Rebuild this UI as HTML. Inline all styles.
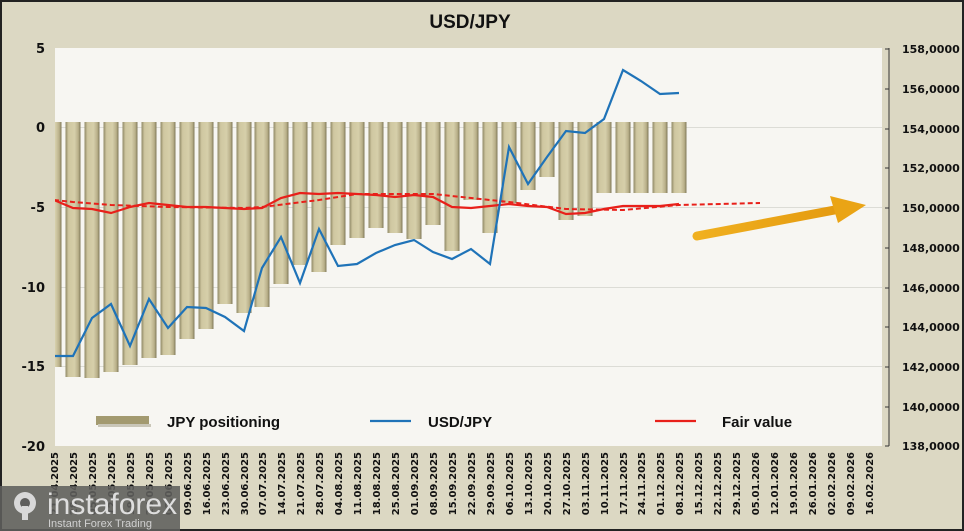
<!DOCTYPE html>
<html><head><meta charset="utf-8"><style>
html,body{margin:0;padding:0;background:#dcd8c3;}
svg{display:block;}
.ax{font-family:"DejaVu Sans",sans-serif;font-weight:bold;fill:#111;}
.lg{font-family:"Liberation Sans",sans-serif;font-weight:bold;font-size:15px;fill:#111;}
</style></head><body>
<svg width="964" height="531" viewBox="0 0 964 531" xmlns="http://www.w3.org/2000/svg">
<defs>
<linearGradient id="bg" x1="0" x2="1" y1="0" y2="0">
<stop offset="0" stop-color="#8f8866"/><stop offset="0.2" stop-color="#cfc7a0"/><stop offset="0.6" stop-color="#d6cfaa"/><stop offset="0.85" stop-color="#b9b08a"/><stop offset="1" stop-color="#7f7858"/>
</linearGradient>
<linearGradient id="ar" x1="0" x2="1"><stop offset="0" stop-color="#f0b020"/><stop offset="1" stop-color="#e49a10"/></linearGradient>
<clipPath id="pc"><rect x="55" y="48" width="827" height="398"/></clipPath>
</defs>
<rect x="0" y="0" width="964" height="531" fill="#dcd8c3"/>
<rect x="1" y="1" width="962" height="529" fill="none" stroke="#222" stroke-width="2"/>
<text x="470" y="28" text-anchor="middle" style="font-family:'Liberation Sans',sans-serif;font-weight:bold;font-size:19px;fill:#111">USD/JPY</text>
<rect x="55" y="48" width="827" height="398" fill="#f7f6f2"/>
<g stroke="#dcdcd6" stroke-width="1">
<line x1="55" x2="882" y1="127.5" y2="127.5"/><line x1="55" x2="882" y1="207.5" y2="207.5"/>
<line x1="55" x2="882" y1="287.5" y2="287.5"/><line x1="55" x2="882" y1="366.5" y2="366.5"/>
</g>
<g class="ax" font-size="13" text-anchor="end">
<text x="45" y="53">5</text><text x="45" y="132">0</text><text x="45" y="212">-5</text>
<text x="45" y="292">-10</text><text x="45" y="371">-15</text><text x="45" y="451">-20</text>
</g>
<line x1="889" y1="48" x2="889" y2="446" stroke="#333"/>
<g stroke="#333">
<line x1="885" x2="889" y1="49" y2="49"/><line x1="885" x2="889" y1="89" y2="89"/><line x1="885" x2="889" y1="129" y2="129"/><line x1="885" x2="889" y1="168" y2="168"/><line x1="885" x2="889" y1="208" y2="208"/><line x1="885" x2="889" y1="248" y2="248"/><line x1="885" x2="889" y1="288" y2="288"/><line x1="885" x2="889" y1="327" y2="327"/><line x1="885" x2="889" y1="367" y2="367"/><line x1="885" x2="889" y1="407" y2="407"/><line x1="885" x2="889" y1="446" y2="446"/>
</g>
<g class="ax" font-size="11">
<text x="902" y="53">158,0000</text><text x="902" y="93">156,0000</text><text x="902" y="133">154,0000</text><text x="902" y="172">152,0000</text><text x="902" y="212">150,0000</text><text x="902" y="252">148,0000</text><text x="902" y="292">146,0000</text><text x="902" y="331">144,0000</text><text x="902" y="371">142,0000</text><text x="902" y="411">140,0000</text><text x="902" y="450">138,0000</text>
</g>
<g clip-path="url(#pc)" fill="url(#bg)">
<rect x="46.5" y="122" width="15" height="245"/>
<rect x="65.5" y="122" width="15" height="255"/>
<rect x="84.5" y="122" width="15" height="256"/>
<rect x="103.5" y="122" width="15" height="250"/>
<rect x="122.5" y="122" width="15" height="243"/>
<rect x="141.5" y="122" width="15" height="236"/>
<rect x="160.5" y="122" width="15" height="233"/>
<rect x="179.5" y="122" width="15" height="217"/>
<rect x="198.5" y="122" width="15" height="207"/>
<rect x="217.5" y="122" width="15" height="182"/>
<rect x="236.5" y="122" width="15" height="191"/>
<rect x="254.5" y="122" width="15" height="185"/>
<rect x="273.5" y="122" width="15" height="162"/>
<rect x="292.5" y="122" width="15" height="143"/>
<rect x="311.5" y="122" width="15" height="150"/>
<rect x="330.5" y="122" width="15" height="123"/>
<rect x="349.5" y="122" width="15" height="116"/>
<rect x="368.5" y="122" width="15" height="106"/>
<rect x="387.5" y="122" width="15" height="111"/>
<rect x="406.5" y="122" width="15" height="117"/>
<rect x="425.5" y="122" width="15" height="103"/>
<rect x="444.5" y="122" width="15" height="129"/>
<rect x="463.5" y="122" width="15" height="78"/>
<rect x="482.5" y="122" width="15" height="111"/>
<rect x="501.5" y="122" width="15" height="81"/>
<rect x="520.5" y="122" width="15" height="68"/>
<rect x="539.5" y="122" width="15" height="55"/>
<rect x="558.5" y="122" width="15" height="98"/>
<rect x="577.5" y="122" width="15" height="94"/>
<rect x="596.5" y="122" width="15" height="71"/>
<rect x="615.5" y="122" width="15" height="71"/>
<rect x="633.5" y="122" width="15" height="71"/>
<rect x="652.5" y="122" width="15" height="71"/>
<rect x="671.5" y="122" width="15" height="71"/>
</g>
<polyline clip-path="url(#pc)" fill="none" stroke="#e8201a" stroke-width="2" stroke-dasharray="5,3" points="54,200 73,202 111,205 168,207 244,208 262,207 319,200 357,194 433,194 509,202 566,209 623,210 679,205 760,203"/>
<polyline clip-path="url(#pc)" fill="none" stroke="#e8201a" stroke-width="2.2" points="54,200 73,208 92,209 111,213 130,207 149,203 168,205 187,207 206,207 225,208 244,209 262,208 281,198 300,193 319,194 338,193 357,194 376,195 395,197 414,195 433,197 452,207 471,208 490,206 509,204 528,206 547,207 566,214 585,213 604,209 623,206 641,206 660,206 679,204"/>
<polyline clip-path="url(#pc)" fill="none" stroke="#1f73b8" stroke-width="2.2" points="54,356 73,356 92,318 111,304 130,346 149,299 168,328 187,307 206,308 225,317 244,331 262,268 281,237 300,283 319,229 338,266 357,264 376,253 395,245 414,240 433,252 452,259 471,249 490,264 509,147 528,184 547,157 566,131 585,133 604,119 623,70 641,81 660,94 679,93"/>
<g>
<line x1="697" y1="236" x2="840" y2="209" stroke="url(#ar)" stroke-width="9" stroke-linecap="round"/>
<polygon points="830,196 866,205 838,223" fill="#eaa415"/>
</g>
<rect x="96" y="416" width="53" height="9" fill="#a39a70"/>
<rect x="98" y="424" width="53" height="3" fill="#c9c6b8"/>
<text x="167" y="427" class="lg">JPY positioning</text>
<line x1="370" x2="411" y1="421" y2="421" stroke="#1f73b8" stroke-width="2.2"/>
<text x="428" y="427" class="lg">USD/JPY</text>
<line x1="655" x2="696" y1="421" y2="421" stroke="#e8201a" stroke-width="2.2"/>
<text x="722" y="427" class="lg">Fair value</text>
<g class="ax" font-size="10" text-anchor="end">
<text transform="translate(58,452) rotate(-90)">21.04.2025</text>
<text transform="translate(77,452) rotate(-90)">28.04.2025</text>
<text transform="translate(96,452) rotate(-90)">05.05.2025</text>
<text transform="translate(115,452) rotate(-90)">12.05.2025</text>
<text transform="translate(134,452) rotate(-90)">19.05.2025</text>
<text transform="translate(153,452) rotate(-90)">26.05.2025</text>
<text transform="translate(172,452) rotate(-90)">02.06.2025</text>
<text transform="translate(191,452) rotate(-90)">09.06.2025</text>
<text transform="translate(210,452) rotate(-90)">16.06.2025</text>
<text transform="translate(229,452) rotate(-90)">23.06.2025</text>
<text transform="translate(248,452) rotate(-90)">30.06.2025</text>
<text transform="translate(266,452) rotate(-90)">07.07.2025</text>
<text transform="translate(285,452) rotate(-90)">14.07.2025</text>
<text transform="translate(304,452) rotate(-90)">21.07.2025</text>
<text transform="translate(323,452) rotate(-90)">28.07.2025</text>
<text transform="translate(342,452) rotate(-90)">04.08.2025</text>
<text transform="translate(361,452) rotate(-90)">11.08.2025</text>
<text transform="translate(380,452) rotate(-90)">18.08.2025</text>
<text transform="translate(399,452) rotate(-90)">25.08.2025</text>
<text transform="translate(418,452) rotate(-90)">01.09.2025</text>
<text transform="translate(437,452) rotate(-90)">08.09.2025</text>
<text transform="translate(456,452) rotate(-90)">15.09.2025</text>
<text transform="translate(475,452) rotate(-90)">22.09.2025</text>
<text transform="translate(494,452) rotate(-90)">29.09.2025</text>
<text transform="translate(513,452) rotate(-90)">06.10.2025</text>
<text transform="translate(532,452) rotate(-90)">13.10.2025</text>
<text transform="translate(551,452) rotate(-90)">20.10.2025</text>
<text transform="translate(570,452) rotate(-90)">27.10.2025</text>
<text transform="translate(589,452) rotate(-90)">03.11.2025</text>
<text transform="translate(608,452) rotate(-90)">10.11.2025</text>
<text transform="translate(627,452) rotate(-90)">17.11.2025</text>
<text transform="translate(645,452) rotate(-90)">24.11.2025</text>
<text transform="translate(664,452) rotate(-90)">01.12.2025</text>
<text transform="translate(683,452) rotate(-90)">08.12.2025</text>
<text transform="translate(702,452) rotate(-90)">15.12.2025</text>
<text transform="translate(721,452) rotate(-90)">22.12.2025</text>
<text transform="translate(740,452) rotate(-90)">29.12.2025</text>
<text transform="translate(759,452) rotate(-90)">05.01.2026</text>
<text transform="translate(778,452) rotate(-90)">12.01.2026</text>
<text transform="translate(797,452) rotate(-90)">19.01.2026</text>
<text transform="translate(816,452) rotate(-90)">26.01.2026</text>
<text transform="translate(835,452) rotate(-90)">02.02.2026</text>
<text transform="translate(854,452) rotate(-90)">09.02.2026</text>
<text transform="translate(873,452) rotate(-90)">16.02.2026</text>
</g>
<rect x="0" y="486" width="180" height="45" fill="#5e5e5c" fill-opacity="0.88"/>
<g fill="#d8d8d8">
<circle cx="25" cy="503" r="11"/>
<circle cx="25" cy="503" r="5" fill="#5e5e5c"/>
<rect x="22" y="506" width="6" height="14"/>
</g>
<text x="47" y="514" style="font-family:'Liberation Sans',sans-serif;font-size:30px;fill:#dedede">instaforex</text>
<text x="48" y="527" style="font-family:'Liberation Sans',sans-serif;font-size:11px;fill:#d0d0d0">Instant Forex Trading</text>
</svg>
</body></html>
